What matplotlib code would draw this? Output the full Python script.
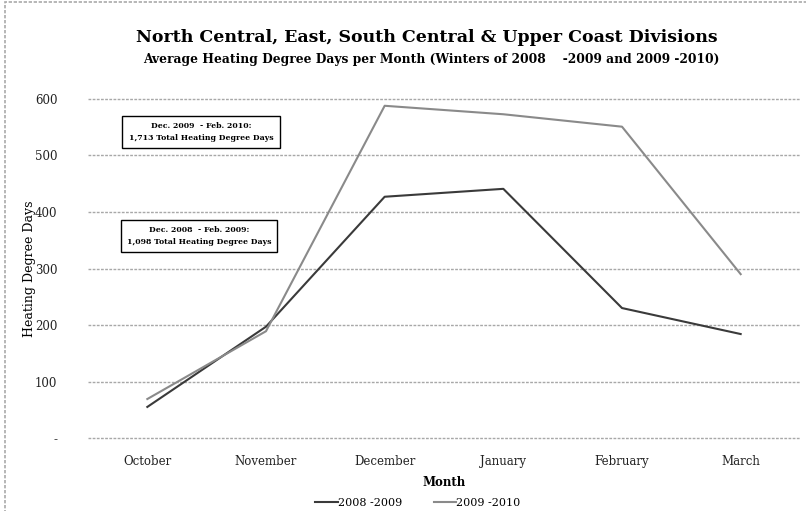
import matplotlib.pyplot as plt
from matplotlib.patches import Rectangle

# --- data ---
months = ['October', 'November', 'December', 'January', 'February', 'March']
hdd_0809 = [55, 197, 427, 441, 230, 184]
hdd_1011 = [69, 189, 588, 573, 551, 290]
y_ticks = [0, 100, 200, 300, 400, 500, 600]
y_tick_labels = ['-', '100', '200', '300', '400', '500', '600']

FONT = 'DejaVu Serif'
plt.rcParams['font.family'] = FONT

fig = plt.figure(figsize=(8.06, 5.11), dpi=100)
ax = fig.add_axes([88 / 806, 73 / 511, 712 / 806, 339 / 511])

x = list(range(len(months)))
l1, = ax.plot(x, hdd_0809, color='#3a3a3a', linewidth=1.5, label='2008 -2009', clip_on=False)
l2, = ax.plot(x, hdd_1011, color='#8a8a8a', linewidth=1.5, label='2009 -2010', clip_on=False)

ax.set_xlim(-0.5, len(months) - 0.5)
ax.set_ylim(0, 600)
ax.set_yticks(y_ticks)
ax.set_yticklabels(y_tick_labels, fontsize=8.5, color='#222222')
ax.set_xticks(x)
ax.set_xticklabels(months, fontsize=8.5, color='#222222')
ax.tick_params(axis='y', length=0, pad=22)
ax.tick_params(axis='x', length=0, pad=12)
for s in ax.spines.values():
    s.set_visible(False)
ax.yaxis.grid(True, color='#a8a8a8', linestyle=(0, (2, 1)), linewidth=1)
for g in ax.get_ygridlines():
    g.set_clip_on(False)
ax.set_axisbelow(True)

ax.set_ylabel('Heating Degree Days', fontsize=9)
ax.yaxis.set_label_coords(-(88 - 36) / 712, 0.5)
ax.set_xlabel('Month', fontsize=8.5, fontweight='bold', labelpad=6)

# titles
fig.text(0.53, 1 - 37 / 511, 'North Central, East, South Central & Upper Coast Divisions',
         ha='center', va='center', fontsize=12.5, fontweight='bold')
fig.text(0.535, 1 - 59 / 511, 'Average Heating Degree Days per Month (Winters of 2008    -2009 and 2009 -2010)',
         ha='center', va='center', fontsize=8.8, fontweight='bold')

# annotation boxes
box = dict(boxstyle='square,pad=0.8', facecolor='white', edgecolor='black', linewidth=1)
ax.text((201 - 88) / 712, 1 - (132 - 99) / 339,
        'Dec. 2009  - Feb. 2010:\n1,713 Total Heating Degree Days',
        transform=ax.transAxes, ha='center', va='center', fontsize=5.6, fontweight='bold',
        linespacing=1.6, bbox=box)
ax.text((199 - 88) / 712, 1 - (236 - 99) / 339,
        'Dec. 2008  - Feb. 2009:\n1,098 Total Heating Degree Days',
        transform=ax.transAxes, ha='center', va='center', fontsize=5.6, fontweight='bold',
        linespacing=1.6, bbox=box)

fig.legend(handles=[l1, l2], loc='center', bbox_to_anchor=(418 / 806, 1 - 503 / 511), ncol=2,
           frameon=False, fontsize=8, handlelength=2.0, columnspacing=2.8, handletextpad=0.05,
           borderaxespad=0, borderpad=0)

# outer chart border
fig.add_artist(Rectangle((5 / 806, -0.1), 1.2, 1 - 2 / 511 + 0.1, transform=fig.transFigure,
                         fill=False, edgecolor='#aaaaaa', linewidth=1.2, linestyle=(0, (2, 1))))

fig.savefig('out.png', dpi=100)
